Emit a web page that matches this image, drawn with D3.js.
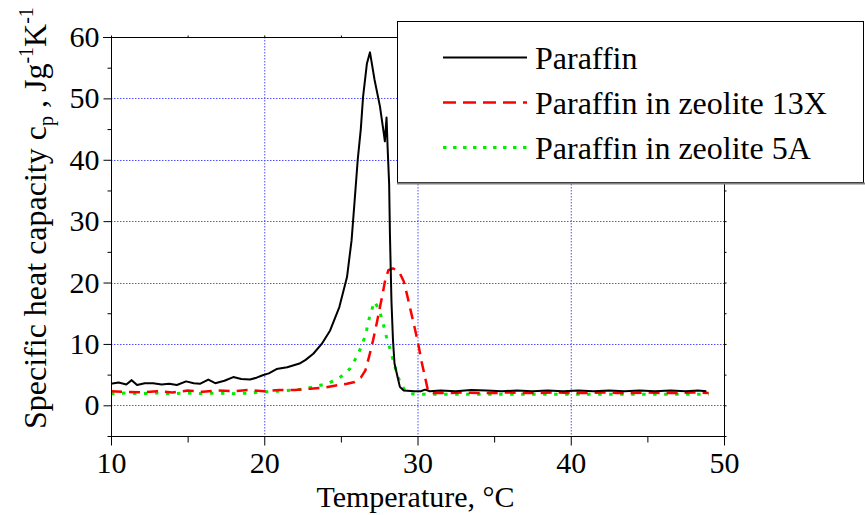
<!DOCTYPE html>
<html><head><meta charset="utf-8">
<script src="https://cdn.jsdelivr.net/npm/d3@7"></script>
<style>body{margin:0;background:#fff}svg{display:block}text{font-family:"Liberation Serif","Times New Roman",serif;fill:#000}</style>
</head><body><svg id="c" width="865" height="515"></svg>
<script>
// ---- data ----
const xTicks = [10, 20, 30, 40, 50];
const yTicks = [0, 10, 20, 30, 40, 50, 60];
const xMinor = [15, 25, 35, 45];
const yMinor = [-5, 5, 15, 25, 35, 45, 55];
const xGrid = [20, 30, 40];
const yGrid = [0, 10, 20, 30, 40, 50];

const seriesNames = ["Paraffin", "Paraffin in zeolite 13X", "Paraffin in zeolite 5A"];

const paraffinT = [10, 10.5, 11, 11.35, 11.7, 12.2, 12.75, 13.3, 13.8, 14.3, 14.9, 15.4, 15.8, 16.35, 16.8, 17.4, 17.98, 18.5, 19.07, 19.5, 19.9, 20.3, 20.8, 21.5, 22.3, 22.7, 23.2, 23.75, 24.3, 24.9, 25.4, 25.7, 25.9, 26.1, 26.3, 26.45, 26.7, 26.9, 27.2, 27.55, 27.8, 27.87, 27.98, 28.05, 28.15, 28.2, 28.3, 28.4, 28.5, 28.7, 28.85, 29.1, 29.8, 30.2, 30.5, 30.8, 31.5, 32.5, 33.5, 34.5, 35.5, 36.5, 37.5, 38.5, 39.5, 40.5, 41.5, 42.5, 43.5, 44.5, 45.5, 46.5, 47.5, 48.3, 48.85];
const paraffinCp = [3.5, 3.7, 3.4, 4.1, 3.3, 3.6, 3.6, 3.4, 3.5, 3.3, 3.9, 3.6, 3.5, 4.2, 3.6, 4.0, 4.6, 4.3, 4.2, 4.5, 4.9, 5.2, 5.9, 6.2, 6.8, 7.4, 8.4, 10.0, 12.2, 16.0, 20.9, 26.9, 33.4, 40.0, 45.0, 50.3, 55.7, 57.5, 53.0, 48.7, 44.3, 43.0, 46.9, 42.0, 36.0, 28.0, 17.0, 10.6, 6.8, 4.6, 3.0, 2.4, 2.3, 2.3, 2.55, 2.3, 2.4, 2.3, 2.5, 2.4, 2.3, 2.4, 2.3, 2.4, 2.3, 2.4, 2.3, 2.4, 2.3, 2.4, 2.3, 2.4, 2.3, 2.4, 2.3];

const z13xT = [10, 11, 12, 13, 14, 15, 16, 17, 18, 19, 20, 21, 22, 23, 24, 24.8, 25.4, 25.9, 26.3, 26.6, 26.85, 27.1, 27.35, 27.55, 27.75, 27.9, 28.1, 28.4, 28.6, 28.85, 29.1, 29.3, 29.55, 29.8, 30.05, 30.25, 30.5, 30.7, 31, 32, 33, 34, 35, 36, 37, 38, 39, 40, 41, 42, 43, 44, 45, 46, 47, 48, 49];
const z13xCp = [2.3, 2.2, 2.1, 2.3, 2.1, 2.4, 2.2, 2.4, 2.3, 2.5, 2.3, 2.5, 2.5, 2.7, 2.9, 3.3, 3.5, 3.8, 4.5, 5.7, 8.0, 10.6, 13.5, 16.0, 18.5, 20.5, 22.0, 22.3, 22.1, 21.5, 20.2, 18.2, 15.5, 12.8, 10.0, 7.3, 4.5, 2.2, 2.0, 2.0, 2.1, 2.0, 2.0, 2.1, 2.0, 2.0, 2.1, 2.0, 2.0, 2.1, 2.0, 2.0, 2.1, 2.0, 2.0, 2.1, 2.0];

const z5aT = [10, 11, 12, 13, 14, 15, 16, 17, 18, 19, 20, 21, 22, 22.7, 23.4, 24.2, 24.9, 25.3, 25.6, 26.1, 26.4, 26.6, 26.9, 27.2, 27.5, 27.7, 27.98, 28.3, 28.5, 28.7, 28.95, 29.2, 29.5, 30, 31, 32, 33, 34, 35, 36, 37, 38, 39, 40, 41, 42, 43, 44, 45, 46, 47, 48, 49];
const z5aCp = [1.9, 2.0, 1.9, 2.0, 1.9, 2.0, 1.9, 2.0, 1.9, 2.0, 2.2, 2.3, 2.5, 2.7, 3.1, 3.6, 4.5, 5.2, 6.0, 8.2, 10.0, 11.4, 14.7, 16.9, 15.5, 13.9, 11.1, 8.4, 6.5, 4.8, 3.3, 2.4, 1.9, 1.8, 1.8, 1.8, 1.8, 1.8, 1.8, 1.8, 1.8, 1.8, 1.8, 1.8, 1.8, 1.8, 1.8, 1.8, 1.8, 1.8, 1.8, 1.8, 1.8];

// ---- drawing ----
const svg = d3.select("#c");
const L = 111, R = 724, T = 37, B = 436;
const x = d3.scaleLinear().domain([10, 50]).range([L, R]);
const y = d3.scaleLinear().domain([-5, 60]).range([B, T]);

// grid
const grid = svg.append("g").attr("stroke", "#5050ff").attr("stroke-width", 1).attr("stroke-dasharray", "1.5,1.5");
grid.selectAll("line.gx").data(xGrid).join("line").attr("x1", d => x(d) + 0.5).attr("x2", d => x(d) + 0.5).attr("y1", T).attr("y2", B);
grid.selectAll("line.gy").data(yGrid).join("line").attr("x1", L).attr("x2", R).attr("y1", d => Math.round(y(d)) + 0.5).attr("y2", d => Math.round(y(d)) + 0.5);

// series
const mk = (ts, vs) => ts.map((t, i) => [t, vs[i]]);
const line = d3.line().x(d => x(d[0])).y(d => y(d[1]));
const series = [
  {data: mk(z5aT, z5aCp), color: "#00ee00", w: 3, dash: "3.5,7.5"},
  {data: mk(z13xT, z13xCp), color: "#ff0000", w: 2.5, dash: "11,7"},
  {data: mk(paraffinT, paraffinCp), color: "#000000", w: 2, dash: null}
];
svg.append("g").selectAll("path").data(series).join("path")
  .attr("d", d => line(d.data)).attr("fill", "none")
  .attr("stroke", d => d.color).attr("stroke-width", d => d.w)
  .attr("stroke-dasharray", d => d.dash).attr("stroke-linejoin", "round");

// axes
const fs = 30;
const ax = svg.append("g");
const yAx = ax.append("g").attr("transform", `translate(${L + 0.5},0)`)
  .call(d3.axisLeft(y).tickValues(yTicks).tickSize(8).tickPadding(4).tickFormat(d3.format("d")));
const yAxm = ax.append("g").attr("transform", `translate(${L + 0.5},0)`)
  .call(d3.axisLeft(y).tickValues(yMinor).tickSize(4).tickFormat(""));
const xAx = ax.append("g").attr("transform", `translate(0,${B + 0.5})`)
  .call(d3.axisBottom(x).tickValues(xTicks).tickSize(9).tickPadding(6).tickFormat(d3.format("d")));
const xAxm = ax.append("g").attr("transform", `translate(0,${B + 0.5})`)
  .call(d3.axisBottom(x).tickValues(xMinor).tickSize(6).tickFormat(""));
const topAx = ax.append("g").attr("transform", `translate(0,${T + 0.5})`)
  .call(d3.axisTop(x).tickValues(xTicks.concat(xMinor)).tickSize(2).tickFormat(""));
const rAx = ax.append("g").attr("transform", `translate(${R + 0.5},0)`)
  .call(d3.axisRight(y).tickValues(yTicks.concat(yMinor)).tickSize(2).tickFormat(""));
[yAx, yAxm, xAx, xAxm, topAx, rAx].forEach(g => {
  g.attr("font-family", "Liberation Serif");
  g.select(".domain").remove();
  g.selectAll("line").attr("stroke", "#000").attr("stroke-width", 1);
  g.selectAll("text").style("font-size", fs + "px").style("font-family", "Liberation Serif");
});
ax.append("rect").attr("x", L + 0.5).attr("y", T + 0.5).attr("width", R - L).attr("height", B - T)
  .attr("fill", "none").attr("stroke", "#000").attr("stroke-width", 1);
ax.append("line").attr("x1", L - 8).attr("x2", L).attr("y1", T + 0.5).attr("y2", T + 0.5).attr("stroke", "#000");

// axis titles
svg.append("text").attr("x", (L + R) / 2 - 2).attr("y", 507).attr("text-anchor", "middle")
  .style("font-size", fs + "px").text("Temperature, °C");
const yl = svg.append("text").attr("transform", "translate(46,429) rotate(-90)")
  .attr("text-anchor", "start").style("font-size", "32px");
yl.append("tspan").text("Specific heat capacity c");
yl.append("tspan").attr("dy", 7).style("font-size", "20px").text("p");
yl.append("tspan").attr("dy", -7).text(" , Jg");
yl.append("tspan").attr("dy", -13).style("font-size", "20px").text("-1");
yl.append("tspan").attr("dy", 13).text("K");
yl.append("tspan").attr("dy", -13).style("font-size", "20px").text("-1");

// legend
const lg = svg.append("g");
lg.append("rect").attr("x", 397.5).attr("y", 21.5).attr("width", 466).attr("height", 161)
  .attr("fill", "#fff").attr("stroke", "#000").attr("stroke-width", 1);
lg.append("line").attr("x1", 397).attr("x2", 865).attr("y1", 183.5).attr("y2", 183.5)
  .attr("stroke", "#808080").attr("stroke-width", 2);
const legendStyles = [series[2], series[1], series[0]];
const legY = [57.5, 102.5, 147.5];
seriesNames.forEach((name, i) => {
  const s = legendStyles[i];
  lg.append("line").attr("x1", 443).attr("x2", 527).attr("y1", legY[i]).attr("y2", legY[i])
    .attr("stroke", s.color).attr("stroke-width", s.w).attr("stroke-dasharray", i === 1 ? "13,7" : (i === 2 ? "3.5,6.5" : null));
  lg.append("text").attr("x", 535).attr("y", legY[i] + 11).style("font-size", "32px").text(name);
});
</script></body></html>
